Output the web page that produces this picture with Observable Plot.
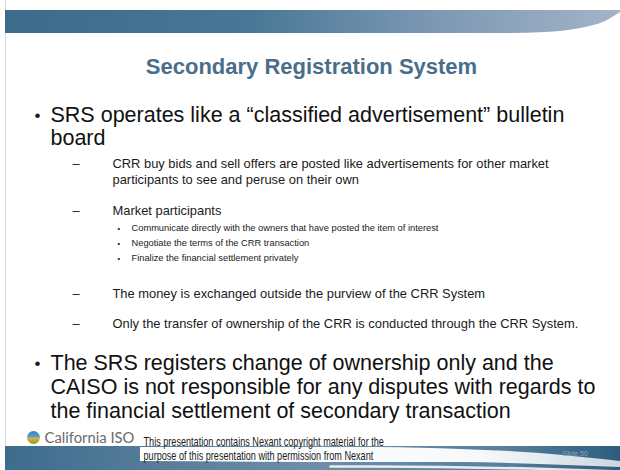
<!DOCTYPE html>
<html><head><meta charset="utf-8">
<script src="https://cdn.jsdelivr.net/npm/d3@7"></script>
<script src="https://cdn.jsdelivr.net/npm/@observablehq/plot@0.6"></script>
<style>html,body{margin:0;padding:0;background:#fff} svg{display:block}</style>
</head><body><div id="chart"></div>
<script>
// ---- slide content ----
const title = ["Secondary Registration System"];
const bullet1 = ["SRS operates like a \u201cclassified advertisement\u201d bulletin", "board"];
const sub1 = ["CRR buy bids and sell offers are posted like advertisements for other market", "participants to see and peruse on their own"];
const sub2 = ["Market participants"];
const subsub = ["Communicate directly with the owners that have posted the item of interest", "Negotiate the terms of the CRR transaction", "Finalize the financial settlement privately"];
const sub3 = ["The money is exchanged outside the purview of the CRR System"];
const sub4 = ["Only the transfer of ownership of the CRR is conducted through the CRR System."];
const bullet2 = ["The SRS registers change of ownership only and the", "CAISO is not responsible for any disputes with regards to", "the financial settlement of secondary transaction"];
const logoText = ["California ISO"];
const footer = ["This presentation contains Nexant copyright material for the", "purpose of this presentation with permission from Nexant"];
const pageLabel = ["Slide 50"];

// ---- layout (slide coordinates, 620 x 470) ----
function block(lines, y0, lh) { return lines.map((t, i) => ({text: t, y: y0 + i * lh, first: i === 0})); }
const L0 = [...block(bullet1, 121, 23.5), ...block(bullet2, 369, 24)];
const L1 = [...block(sub1, 167, 16), ...block(sub2, 214, 16), ...block(sub3, 297, 16), ...block(sub4, 327.5, 16)];
const L2 = block(subsub, 230, 15);

const topBand = [[5, 33], [500, 33], [545, 32], [580, 28], [605, 21], [620, 12]].map(([x, y]) => ({x, y1: 10, y2: y}));
const botBand = [[5, 446], [620, 446]].map(([x, y]) => ({x, y1: y, y2: 470}));
const botWhite = [[140, 447, 461], [380, 447, 462], [460, 449, 462], [540, 453, 464], [620, 461, 467]].map(([x, a, b]) => ({x, y1: a, y2: b}));
const swoosh2 = [[330, 466], [440, 466.5], [530, 468], [620, 471]].map(([x, y]) => ({x, y}));

const font = "Liberation Sans, Arial, sans-serif";

const defs = () => {
  const d = d3.create("svg:defs");
  const g1 = d.append("linearGradient").attr("id", "gTop").attr("x1", 0).attr("x2", 1).attr("y1", 0).attr("y2", 0);
  g1.append("stop").attr("offset", "0%").attr("stop-color", "#3d6b8b");
  g1.append("stop").attr("offset", "40%").attr("stop-color", "#487896");
  g1.append("stop").attr("offset", "70%").attr("stop-color", "#7d98b3");
  g1.append("stop").attr("offset", "100%").attr("stop-color", "#a3b4c7");
  const g2 = d.append("linearGradient").attr("id", "gBot").attr("x1", 0).attr("x2", 1).attr("y1", 0).attr("y2", 0);
  g2.append("stop").attr("offset", "0%").attr("stop-color", "#3e6c8c");
  g2.append("stop").attr("offset", "50%").attr("stop-color", "#6e8ea9");
  g2.append("stop").attr("offset", "80%").attr("stop-color", "#5a809e");
  g2.append("stop").attr("offset", "100%").attr("stop-color", "#2d5d7e");
  const g3 = d.append("linearGradient").attr("id", "gLogo").attr("x1", 0).attr("x2", 0).attr("y1", 0).attr("y2", 1);
  g3.append("stop").attr("offset", "0%").attr("stop-color", "#2f7fc0");
  g3.append("stop").attr("offset", "45%").attr("stop-color", "#5aa0d0");
  g3.append("stop").attr("offset", "55%").attr("stop-color", "#f2a93b");
  g3.append("stop").attr("offset", "100%").attr("stop-color", "#6aa63a");
  const g4 = d.append("linearGradient").attr("id", "gWhite").attr("x1", 0).attr("x2", 1).attr("y1", 0).attr("y2", 0);
  g4.append("stop").attr("offset", "0%").attr("stop-color", "#ffffff").attr("stop-opacity", 1);
  g4.append("stop").attr("offset", "70%").attr("stop-color", "#ffffff").attr("stop-opacity", 0.95);
  g4.append("stop").attr("offset", "100%").attr("stop-color", "#ffffff").attr("stop-opacity", 0.75);
  return d.node();
};

const plot = Plot.plot({
  width: 620, height: 470, margin: 0,
  x: {domain: [0, 620], range: [0, 620], axis: null},
  y: {domain: [0, 470], range: [0, 470], axis: null},
  style: {fontFamily: font, background: "#fff", overflow: "visible"},
  marks: [
    defs,
    Plot.ruleX([5], {y1: 0, y2: 470, stroke: "#d6dbe0", strokeWidth: 1}),
    // top banner
    Plot.areaY(topBand, {x: "x", y1: "y1", y2: "y2", fill: "url(#gTop)", curve: "monotone-x"}),
    // bottom banner
    Plot.areaY(botBand, {x: "x", y1: "y1", y2: "y2", fill: "url(#gBot)"}),
    Plot.areaY(botWhite, {x: "x", y1: "y1", y2: "y2", fill: "url(#gWhite)", curve: "monotone-x"}),
    Plot.line(swoosh2, {x: "x", y: "y", stroke: "#ffffff", strokeWidth: 2.5, curve: "monotone-x", strokeOpacity: 0.85}),
    // title
    Plot.text(title, {x: 311, y: 73, text: d => d, fontSize: 22, fontWeight: "bold", fill: "#4a6e8a", lineAnchor: "bottom"}),
    // level 0 bullets
    Plot.text(L0.filter(d => d.first), {x: 37, y: d => d.y - 1, text: () => "\u2022", fontSize: 17, fill: "#1a1a1a", lineAnchor: "bottom"}),
    Plot.text(L0, {x: 50, y: "y", text: "text", fontSize: 21.5, fill: "#111", textAnchor: "start", lineAnchor: "bottom"}),
    // level 1
    Plot.text(L1.filter(d => d.first), {x: 72, y: "y", text: () => "\u2013", fontSize: 13, fill: "#222", textAnchor: "start", lineAnchor: "bottom"}),
    Plot.text(L1, {x: 112, y: "y", text: "text", fontSize: 12.9, fill: "#1a1a1a", textAnchor: "start", lineAnchor: "bottom"}),
    // level 2
    Plot.text(L2, {x: 117, y: "y", text: () => "\u2022", fontSize: 7.5, fill: "#222", textAnchor: "start", lineAnchor: "bottom"}),
    Plot.text(L2, {x: 131, y: "y", text: "text", fontSize: 9.3, fill: "#1a1a1a", textAnchor: "start", lineAnchor: "bottom"}),
    // logo
    Plot.dot([0], {x: 33, y: 437, r: 6.5, fill: "url(#gLogo)"}),
    Plot.text(logoText, {x: 44, y: 442, text: d => d, fontSize: 14.8, fill: "#6a6a6a", textAnchor: "start", lineAnchor: "bottom", fontFamily: "Lato, Liberation Sans, sans-serif"}),
    // footer
    Plot.text(footer.map((t, i) => ({t, y: 445.5 + i * 13.5})), {x: 143, y: "y", text: "t", fontSize: 12, fill: "#1a1a1a", textAnchor: "start", lineAnchor: "bottom"}),
    Plot.text(pageLabel, {x: 562, y: 455, text: d => d, fontSize: 7, fill: "#8aa3ba", textAnchor: "start", lineAnchor: "bottom"})
  ]
});
// condense the footer text horizontally (narrow face in the original)
d3.select(plot).selectAll("text").filter(function() { return footer.includes(this.textContent); })
  .each(function() {
    const t = this.getAttribute("transform") || "";
    this.setAttribute("transform", t + " scale(0.76,1)");
  });
document.getElementById("chart").appendChild(plot);
</script>
</body></html>
